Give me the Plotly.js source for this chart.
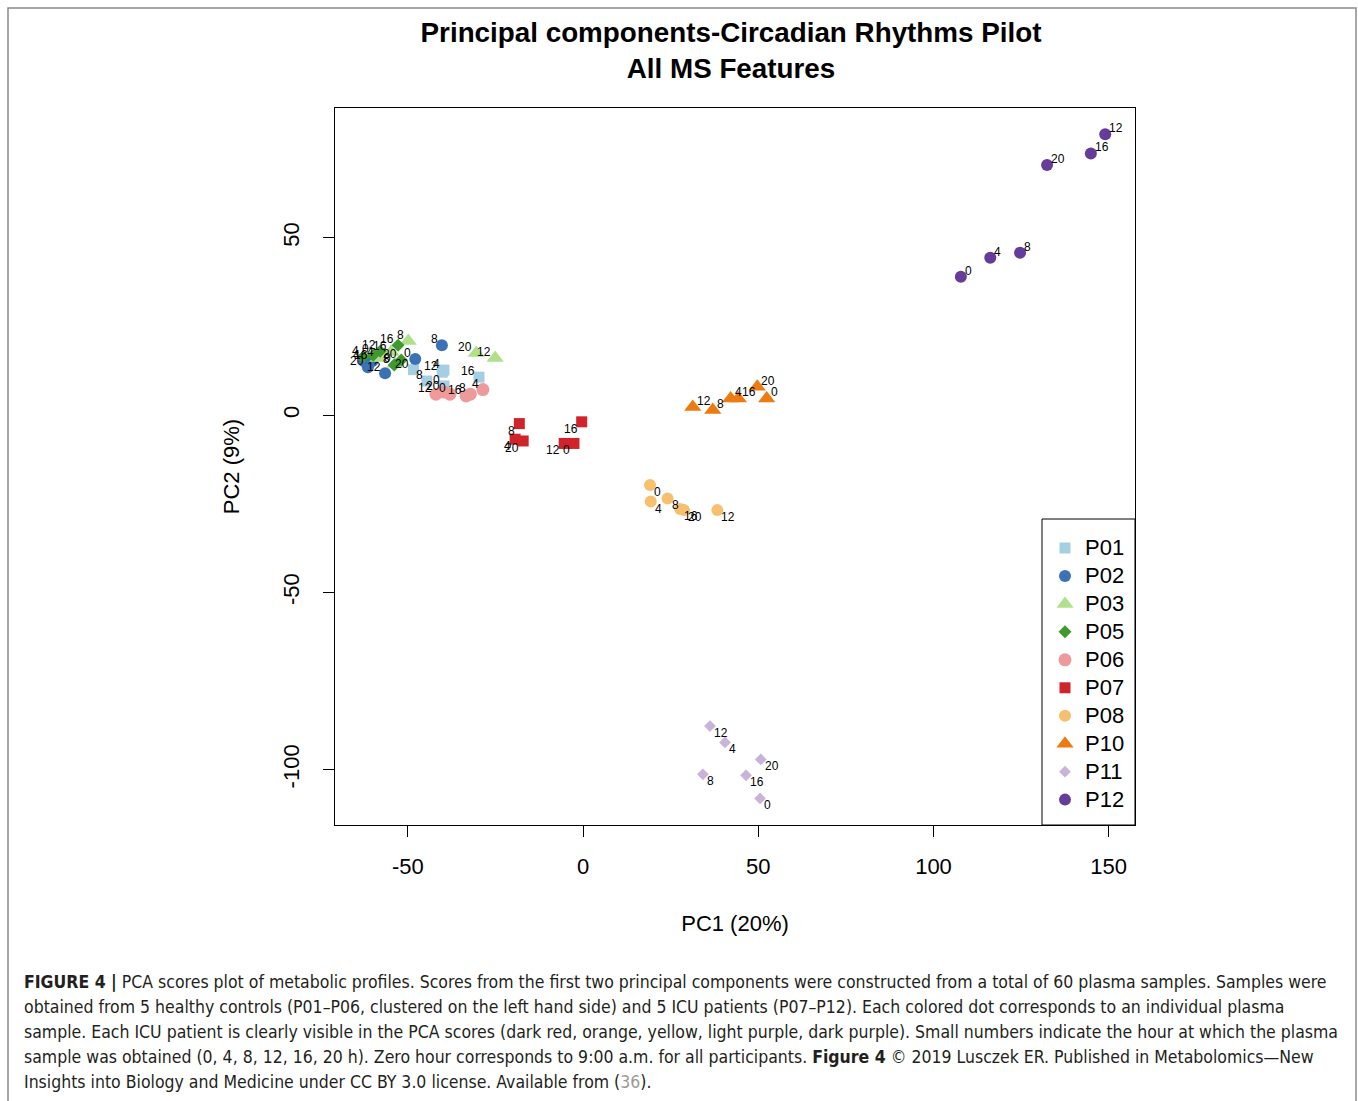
<!DOCTYPE html>
<html>
<head>
<meta charset="utf-8">
<script src="https://cdn.plot.ly/plotly-3.0.1.min.js"></script>
<style>
  html, body { margin: 0; padding: 0; background: #fff; }
  #chart { width: 1358px; height: 1101px; }
</style>
</head>
<body>
<div id="chart"></div>
<script>
// ---------------- DATA ----------------
const hours = ['0', '4', '8', '12', '16', '20'];
const patients = ['P01', 'P02', 'P03', 'P05', 'P06', 'P07', 'P08', 'P10', 'P11', 'P12'];

const P01_pc1 = [-39.7, -39.7, -44.6, -40.2, -29.7, -48.4];
const P01_pc2 = [8.2, 12.7, 9.6, 12.1, 10.7, 12.8];
const P02_pc1 = [-47.9, -62.5, -40.3, -56.5, -60.2, -61.4];
const P02_pc2 = [15.8, 15.2, 19.7, 11.8, 15.2, 13.5];
const P03_pc1 = [-53.7, -58.5, -49.9, -25.1, -54.8, -30.5];
const P03_pc2 = [14.4, 16.1, 20.9, 16.1, 17.8, 17.5];
const P05_pc1 = [-59.9, -62.8, -53.9, -57.9, -52.8, -51.9];
const P05_pc2 = [16.9, 16.4, 14.1, 18.0, 19.7, 15.5];
const P06_pc1 = [-38.0, -28.6, -32.2, -42.0, -33.4, -39.7];
const P06_pc2 = [5.9, 7.2, 5.9, 5.9, 5.4, 6.5];
const P07_pc1 = [-2.6, -19.4, -18.2, -5.4, -0.4, -17.1];
const P07_pc2 = [-8.0, -6.8, -2.4, -8.0, -1.9, -7.3];
const P08_pc1 = [19.1, 19.3, 24.1, 38.3, 27.7, 28.8];
const P08_pc2 = [-19.7, -24.4, -23.5, -26.8, -26.5, -26.8];
const P10_pc1 = [52.4, 42.1, 37.0, 31.3, 44.3, 49.7];
const P10_pc2 = [4.7, 4.7, 1.4, 2.3, 4.7, 8.0];
const P11_pc1 = [50.5, 40.5, 34.2, 36.2, 46.5, 50.7];
const P11_pc2 = [-108.1, -92.3, -101.3, -87.7, -101.6, -97.1];
const P12_pc1 = [107.8, 116.2, 124.7, 149.0, 144.9, 132.4];
const P12_pc2 = [39.0, 44.4, 45.8, 79.2, 73.8, 70.5];

const xTickVals = [-50, 0, 50, 100, 150];
const xTickText = ['-50', '0', '50', '100', '150'];
const yTickVals = [-100, -50, 0, 50];
const yTickText = ['-100', '-50', '0', '50'];

const titleText = 'Principal components-Circadian Rhythms Pilot<br>All MS Features';
const xTitle = 'PC1 (20%)';
const yTitle = 'PC2 (9%)';
const captionLines = [
  '<b>FIGURE 4 |</b> PCA scores plot of metabolic profiles. Scores from the first two principal components were constructed from a total of 60 plasma samples. Samples were',
  'obtained from 5 healthy controls (P01–P06, clustered on the left hand side) and 5 ICU patients (P07–P12). Each colored dot corresponds to an individual plasma',
  'sample. Each ICU patient is clearly visible in the PCA scores (dark red, orange, yellow, light purple, dark purple). Small numbers indicate the hour at which the plasma',
  'sample was obtained (0, 4, 8, 12, 16, 20 h). Zero hour corresponds to 9:00 a.m. for all participants. <b>Figure 4</b> © 2019 Lusczek ER. Published in Metabolomics—New',
  'Insights into Biology and Medicine under CC BY 3.0 license. Available from (<span style="color:#9a9a9a">36</span>).'
];

// ---------------- STYLE ----------------
const dataX = [P01_pc1, P02_pc1, P03_pc1, P05_pc1, P06_pc1, P07_pc1, P08_pc1, P10_pc1, P11_pc1, P12_pc1];
const dataY = [P01_pc2, P02_pc2, P03_pc2, P05_pc2, P06_pc2, P07_pc2, P08_pc2, P10_pc2, P11_pc2, P12_pc2];
const colors  = ['#a6cee3', '#3a72b5', '#b2df8a', '#3f9a2e', '#ee9a9b', '#d0232a', '#f7c06f', '#ee7a12', '#c9b3d8', '#653c99'];
const symbols = ['square', 'circle', 'triangle-up', 'diamond', 'circle', 'square', 'circle', 'triangle-up', 'diamond', 'circle'];
const sizes   = [11, 12, 15, 10, 13, 11, 12, 15, 9, 12];
// label placement relative to the point: [horizontal side, vertical side]
const labelSide = [['l','t'],['l','t'],['l','t'],['l','t'],['l','t'],['l','b'],['r','b'],['r','t'],['r','b'],['r','t']];

const FONT = 'Liberation Sans, Arial, Helvetica, sans-serif';
const traces = patients.map((p, i) => ({
  type: 'scatter',
  mode: 'markers',
  name: '<span style="font-size:22px">' + p + '</span>',
  x: dataX[i],
  y: dataY[i],
  text: hours,
  marker: { color: colors[i], symbol: symbols[i], size: sizes[i], line: { width: 0 } },
  cliponaxis: false,
  hoverinfo: 'x+y+text'
}));

// hour labels, anchored on the data points through the axes
const hourLabels = [];
patients.forEach((p, i) => {
  const [hs, vs] = labelSide[i];
  dataX[i].forEach((xv, j) => {
    hourLabels.push({
      text: hours[j], x: xv, y: dataY[i][j], xref: 'x', yref: 'y',
      showarrow: false, borderpad: 0,
      xanchor: hs === 'l' ? 'right' : 'left',
      xshift: hs === 'l' ? -3 : 3,
      yanchor: 'middle',
      yshift: vs === 't' ? 6 : -7,
      font: { family: FONT, size: 12, color: '#000' }
    });
  });
});

// plot area in pixels
const L = 335, T = 108, W = 800, H = 717, FW = 1358, FH = 1101;
const px = v => (v - L) / W;
const py = v => (T + H - v) / H;

const captionAnn = captionLines.map((t, i) => ({
  text: t, xref: 'paper', yref: 'paper',
  x: px(22), y: py(982 + i * 25), xanchor: 'left', yanchor: 'middle',
  showarrow: false, align: 'left',
  font: { family: 'Liberation Sans Narrow, DejaVu Sans Condensed, Arial Narrow, sans-serif', size: 17.5, color: '#231f20' }
}));

const frameX0 = px(8), frameX1 = px(1356), frameY0 = py(8), frameY1 = py(1101);

const layout = {
  width: FW, height: FH,
  margin: { l: L, t: T, r: FW - L - W, b: FH - T - H, pad: 0 },
  paper_bgcolor: '#fff', plot_bgcolor: '#fff',
  font: { family: FONT, color: '#000' },
  showlegend: true,
  title: {
    text: '<b>' + titleText + '</b>',
    font: { family: FONT, size: 27.8, color: '#000' },
    x: 731 / FW, xanchor: 'center', xref: 'container',
    y: 1 - 42 / FH, yanchor: 'top', yref: 'container'
  },
  xaxis: {
    range: [-70.8, 157.5], autorange: false,
    tickmode: 'array', tickvals: xTickVals, ticktext: xTickText,
    ticks: 'outside', ticklen: 11, tickwidth: 1, tickcolor: '#000',
    tickfont: { family: FONT, size: 22, color: '#000' },
    ticklabelstandoff: 11,
    showline: true, mirror: true, linecolor: '#000', linewidth: 1,
    showgrid: false, zeroline: false, automargin: false,
    title: { text: xTitle, font: { family: FONT, size: 22, color: '#000' }, standoff: 37 }
  },
  yaxis: {
    range: [-115.6, 86.6], autorange: false,
    tickmode: 'array', tickvals: yTickVals, ticktext: yTickText,
    ticks: 'outside', ticklen: 11, tickwidth: 1, tickcolor: '#000',
    tickangle: -90,
    tickfont: { family: FONT, size: 22, color: '#000' },
    ticklabelstandoff: 15,
    showline: true, mirror: true, linecolor: '#000', linewidth: 1,
    showgrid: false, zeroline: false, automargin: false,
    title: { text: yTitle, font: { family: FONT, size: 22, color: '#000' }, standoff: 33 }
  },
  legend: {
    x: px(1130), xanchor: 'right', y: 6 / H, yanchor: 'bottom',
    bgcolor: 'rgba(0,0,0,0)', borderwidth: 0,
    font: { family: FONT, size: 19.2, color: '#000' },
    itemclick: false, itemdoubleclick: false
  },
  annotations: hourLabels.concat(captionAnn),
  shapes: [
    {
      type: 'path', xref: 'paper', yref: 'paper',
      path: `M ${frameX0} ${frameY1} L ${frameX0} ${frameY0} L ${frameX1} ${frameY0} L ${frameX1} ${frameY1}`,
      line: { color: '#8a8a8a', width: 1.5 }
    },
    {
      // legend frame
      type: 'rect', xref: 'paper', yref: 'paper', layer: 'above',
      x0: px(1042), x1: 1, y0: 0, y1: py(519),
      line: { color: '#000', width: 1 }, fillcolor: 'rgba(0,0,0,0)'
    }
  ]
};

Plotly.newPlot('chart', traces, layout, { displayModeBar: false, staticPlot: true });
</script>
</body>
</html>
